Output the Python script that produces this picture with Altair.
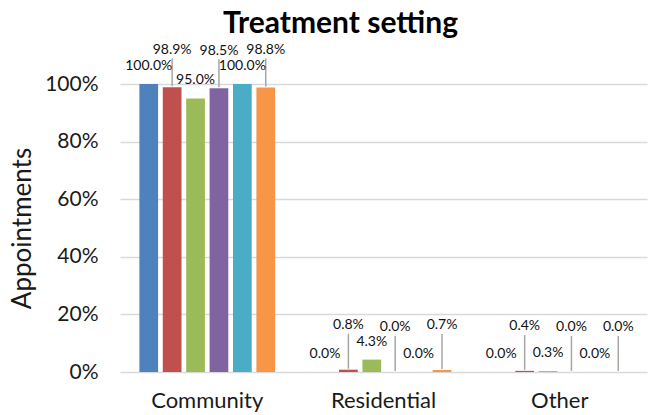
import altair as alt
import pandas as pd

categories = ["Community", "Residential", "Other"]
series = ["S1", "S2", "S3", "S4", "S5", "S6"]
colors = ["#4F81BD", "#C0504D", "#9BBB59", "#8064A2", "#4BACC6", "#F79646"]
values = {
    "Community": [100.0, 98.9, 95.0, 98.5, 100.0, 98.8],
    "Residential": [0.0, 0.8, 4.3, 0.0, 0.0, 0.7],
    "Other": [0.0, 0.4, 0.3, 0.0, 0.0, 0.0],
}

rows = []
for c in categories:
    for i, s in enumerate(series):
        rows.append({"category": c, "series": s, "idx": i, "pct": values[c][i]})
df = pd.DataFrame(rows)

base = alt.Chart(df).transform_calculate(val="datum.pct / 100")

x = alt.X("category:N", sort=categories, title=None,
          scale=alt.Scale(paddingInner=0.19, paddingOuter=0.09),
          axis=alt.Axis(labelAngle=0, labelFontSize=22, labelFont="Lato",
                        labelColor="#1a1a1a", ticks=False, domain=False,
                        labelPadding=18))
xo = alt.XOffset("series:N", sort=series,
                 scale=alt.Scale(paddingInner=0.2, paddingOuter=0.15))
y = alt.Y("val:Q", title="Appointments",
          scale=alt.Scale(domain=[0, 1], nice=False),
          axis=alt.Axis(format=".0%", values=[0, 0.2, 0.4, 0.6, 0.8, 1.0],
                        labelFontSize=21, labelFont="Lato", labelColor="#1a1a1a",
                        titleFontSize=26, titleFont="Lato", titleFontWeight="normal",
                        titleColor="#1a1a1a", titlePadding=9,
                        ticks=False, domain=False, labelPadding=22,
                        gridColor="#D9D9D9", gridWidth=1.5))
color = alt.Color("series:N", sort=series, legend=None,
                  scale=alt.Scale(domain=series, range=colors))

bars = base.mark_bar().encode(x=x, xOffset=xo, y=y, color=color)

lbl_fmt = alt.Text("val:Q", format=".1%")
txt = dict(fontSize=14, font="Lato", color="#111111")
even_lbl = base.transform_filter("datum.idx % 2 == 0").mark_text(
    dy=-18, **txt).encode(x=x, xOffset=xo, y=y, text=lbl_fmt)

odd_hi = base.transform_filter("datum.idx % 2 == 1 && datum.val > 0.5")
odd_lo = base.transform_filter("datum.idx % 2 == 1 && datum.val <= 0.5")
odd_hi_lbl = odd_hi.mark_text(dy=-37, **txt).encode(
    x=x, xOffset=xo, y=y, text=lbl_fmt)
odd_lo_lbl = odd_lo.mark_text(dy=-45, **txt).encode(
    x=x, xOffset=xo, y=y, text=lbl_fmt)
lead_style = dict(color="#A6A6A6", strokeWidth=1.5, yOffset=-1)
odd_hi_lead = odd_hi.mark_rule(y2Offset=-29, **lead_style).encode(
    x=x, xOffset=xo, y=y, y2="val:Q")
odd_lo_lead = odd_lo.mark_rule(y2Offset=-36, **lead_style).encode(
    x=x, xOffset=xo, y=y, y2="val:Q")

chart = alt.layer(bars, odd_hi_lead, odd_lo_lead, even_lbl,
                  odd_hi_lbl, odd_lo_lbl).properties(
    width=527, height=288,
    title=alt.TitleParams("Treatment setting", fontSize=30, font="Lato",
                          fontWeight="bold", color="#000000", anchor="middle",
                          offset=4, dx=-43),
    autosize=alt.AutoSizeParams(type="none"),
    padding={"left": 120, "top": 84, "right": 6, "bottom": 43},
).configure_view(stroke=None)

chart.save("out.html", embed_options={"renderer": "svg", "actions": False})
